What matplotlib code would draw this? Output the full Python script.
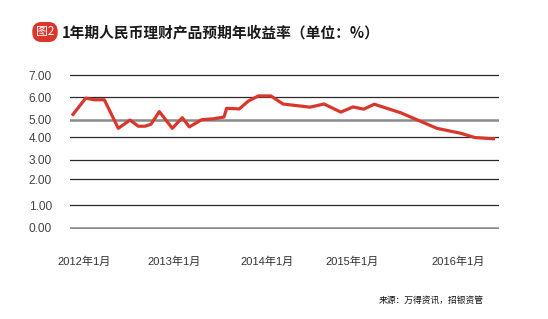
import numpy as np
import matplotlib
matplotlib.use('Agg')
import matplotlib.pyplot as plt

plt.rcParams['font.family'] = ['Liberation Sans', 'Noto Sans CJK SC', 'DejaVu Sans']

# months since 2012-01 and yield in %
months = [0, 1.55, 2.53, 3.67, 5.25, 6.58, 7.52, 8.28, 8.96, 9.91, 11.38,
          12.52, 13.31, 14.72, 16.03, 17.25, 17.55, 18.98, 20.0, 21.14,
          22.58, 23.94, 27.0, 28.6, 30.5, 31.9, 33.1, 34.3, 37.3, 41.4,
          44.1, 45.7, 48.0]
yields = [5.18, 5.96, 5.89, 5.89, 4.51, 4.98, 4.63, 4.63, 4.74, 5.36, 4.51,
          5.09, 4.59, 5.00, 5.04, 5.12, 5.51, 5.48, 5.83, 6.06,
          6.06, 5.70, 5.56, 5.70, 5.34, 5.57, 5.47, 5.69, 5.31, 4.51,
          4.23, 3.99, 3.93]

y_ticks = [0, 1, 2, 3, 4, 5, 6, 7]
y_labels = ['0.00', '1.00', '2.00', '3.00', '4.00', '5.00', '6.00', '7.00']
x_tick_pos = [1.36, 11.57, 22.13, 31.83, 43.8]
x_labels = ['2012年1月', '2013年1月', '2014年1月', '2015年1月', '2016年1月']

# the original axis is unevenly spaced; map values to the drawn heights
scale_vals = [-1, 0, 1, 2, 3, 4, 5, 6, 7, 8]
scale_h = [-22.4, 0, 22.4, 48.7, 67.7, 90.4, 108, 130.4, 152.7, 175]


def fwd(v):
    return np.interp(v, scale_vals, scale_h)


def inv(h):
    return np.interp(h, scale_h, scale_vals)


W, H = 548, 319
fig = plt.figure(figsize=(W / 100, H / 100), dpi=100)
fig.patch.set_facecolor('white')
ax = fig.add_axes([70 / W, 1 - 229 / H, (499 - 70) / W, (229 - 74) / H])
ax.set_yscale('function', functions=(fwd, inv))

for v in y_ticks:
    if v in (0, 5):
        ax.axhline(v, color='#8a8a8a', lw=1.8, zorder=1)
    else:
        ax.axhline(v, color='#2a2a2a', lw=0.9, zorder=1)

ax.plot(months, yields, color='#d9362c', lw=2.3, solid_joinstyle='round',
        solid_capstyle='butt', zorder=3)

ax.set_xlim(-2 / 8.8125, 48 + 4 / 8.8125)
ax.set_ylim(inv(-1.3), inv(153.7))
ax.set_yticks(y_ticks)
ax.set_yticklabels(y_labels, color='#444444', fontsize=8.6)
ax.set_xticks(x_tick_pos)
ax.set_xticklabels(x_labels, color='#333333', fontsize=8)
ax.tick_params(axis='y', length=0, pad=13)
ax.tick_params(axis='x', length=0, pad=20)
ax.yaxis.set_minor_locator(matplotlib.ticker.NullLocator())
for s in ax.spines.values():
    s.set_visible(False)

fig.text(45 / W, 1 - 32 / H, '图2', color='white', fontsize=8.5,
         family=['Noto Sans CJK SC', 'DejaVu Sans'], ha='center', va='center',
         bbox=dict(boxstyle='round,pad=0.3,rounding_size=0.8', fc='#d9362c', ec='none'))
fig.text(62 / W, 1 - 32 / H, '1年期人民币理财产品预期年收益率（单位：%）',
         fontsize=10.6, fontweight='bold', color='#1a1a1a',
         family=['Noto Sans CJK SC', 'DejaVu Sans'], ha='left', va='center')
fig.text(484 / W, 1 - 300 / H, '来源：万得资讯，招银资管', fontsize=6.3,
         color='#111111', family=['Noto Sans CJK SC', 'DejaVu Sans'],
         ha='right', va='center')

fig.savefig('out.png', dpi=100, facecolor='white')
